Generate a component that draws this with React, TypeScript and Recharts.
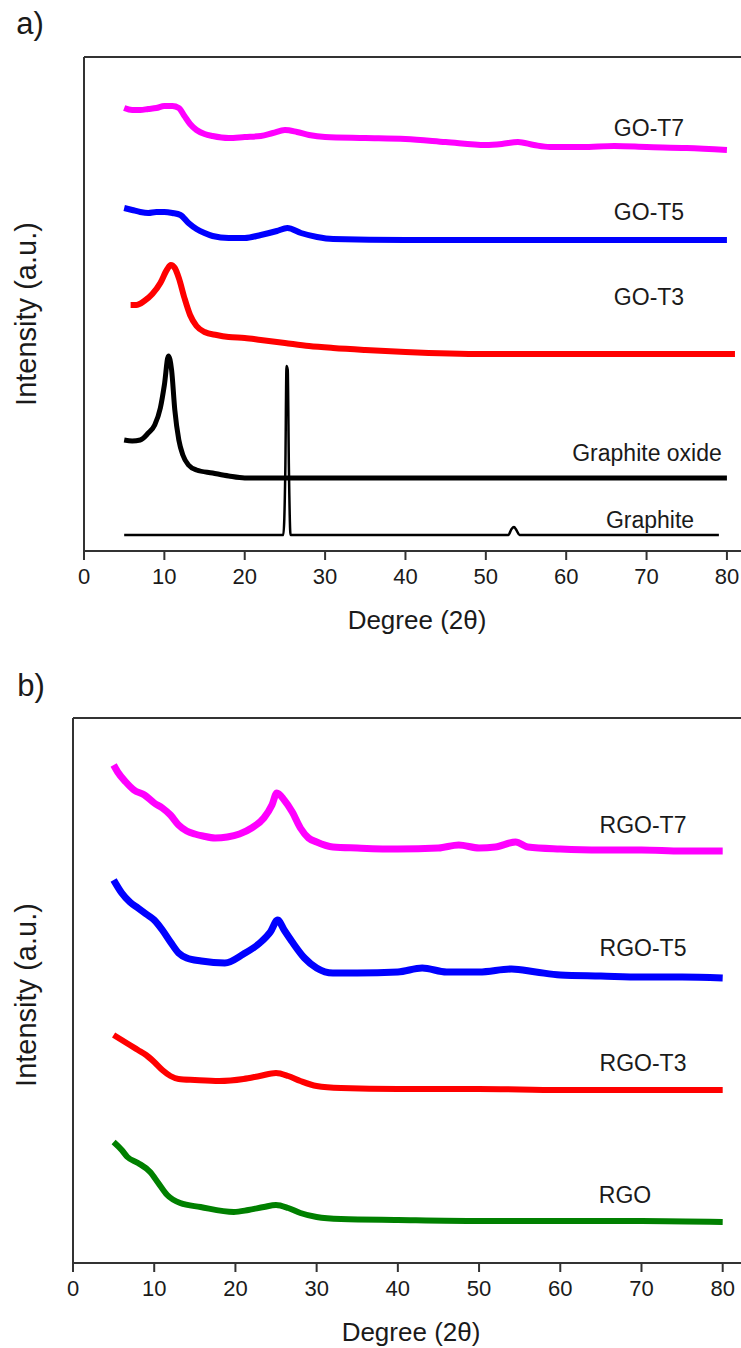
import React from 'react';
import { LineChart, Line, XAxis, YAxis, ReferenceLine } from 'recharts';

const FONT = '"Liberation Sans", Arial, sans-serif';
const xTicks = [0, 10, 20, 30, 40, 50, 60, 70, 80];

// panel a) — 2θ positions and intensities (a.u., read off the picture)
const goT7Deg = [5, 6, 7, 8, 9, 10, 11, 11.8, 12.5, 13.2, 14, 15, 16, 18, 20, 22, 23.5, 25, 26.5, 28, 30, 35, 40, 45, 50, 52, 54, 56, 58, 62, 66, 70, 75, 80];
const goT7 = [443, 441, 441, 442, 443, 445, 445, 443, 435, 427, 421, 417, 415, 413, 414, 415, 418, 421, 419, 416, 414, 413, 412, 409, 406, 407, 409, 406, 404, 404, 405, 404, 403, 401];

const goT5Deg = [5, 6, 7, 8, 9, 10, 11, 12, 13, 14, 15, 16, 18, 20, 22, 24, 25.3, 27, 29, 31, 40, 50, 60, 70, 80];
const goT5 = [343, 341, 339, 338, 339, 339, 338, 336, 328, 322, 318, 315, 313, 313, 316, 320, 323, 318, 314, 312, 311, 311, 311, 311, 311];

const goT3Deg = [5.8, 6.5, 7.5, 8.5, 9.5, 10.3, 10.8, 11.3, 11.8, 12.5, 13.2, 14, 15, 16.5, 18, 20, 22, 25, 28, 31, 35, 40, 50, 60, 70, 81];
const goT3 = [246, 246, 250, 257, 268, 281, 286, 283, 273, 253, 236, 225, 219, 216, 214, 213, 211, 208, 205, 203, 201, 199, 197, 197, 197, 197];

const gOxDeg = [5, 6, 7, 8, 8.8, 9.5, 10, 10.5, 10.9, 11.3, 11.8, 12.3, 13, 14, 16, 18, 20, 30, 40, 50, 60, 70, 80];
const gOx = [111, 110, 111, 118, 126, 143, 166, 195, 181, 141, 111, 96, 86, 81, 78, 75, 73, 73, 73, 73, 73, 73, 73];

const graphiteDeg = [5, 24.8, 25.05, 25.2, 25.35, 25.5, 25.7, 52.8, 53.2, 53.5, 53.8, 54.2, 79];
const graphite = [16, 16, 81, 185, 181, 81, 16, 16, 22, 24, 21, 16, 16];

// panel b)
const rgoT7Deg = [5, 5.5, 6.5, 7.5, 8.8, 10, 11, 12, 13, 14, 15, 16, 17.5, 19, 20.5, 22, 23.5, 24.5, 25.1, 26, 27, 28, 29, 30, 32, 35, 40, 45, 47.5, 50, 52, 54.5, 56, 60, 65, 70, 75, 80];
const rgoT7 = [498, 491, 481, 473, 468, 460, 455, 448, 438, 432, 429, 427, 425, 426, 429, 435, 445, 458, 470, 463, 451, 435, 425, 421, 416, 415, 414, 415, 418, 415, 416, 421, 416, 414, 413, 413, 412, 412];

const rgoT5Deg = [5, 6, 7, 8, 9, 10, 11, 12, 13, 14, 15.8, 18.7, 21, 23, 24.3, 25.2, 26, 27, 28.5, 30, 32, 35, 40, 43, 46, 50, 54, 57, 60, 65, 70, 75, 80];
const rgoT5 = [383, 370, 361, 355, 349, 343, 333, 321, 310, 305, 302, 300, 309, 320, 331, 343, 333, 321, 305, 295, 290, 290, 291, 295, 291, 291, 294, 291, 288, 287, 286, 286, 285];

const rgoT3Deg = [5, 6, 7, 8, 9, 10, 11, 12, 13, 15, 18, 21, 23, 25, 26.5, 28, 30, 33, 40, 50, 60, 70, 80];
const rgoT3 = [228, 223, 218, 213, 208, 201, 193, 187, 184, 183, 182, 184, 187, 190, 187, 182, 177, 175, 174, 174, 173, 173, 173];

const rgoDeg = [5, 6, 6.7, 8, 9.5, 10.5, 11.6, 13.2, 15.7, 19.8, 21.6, 23.5, 25, 26.5, 28, 30, 33, 40, 50, 60, 70, 80];
const rgo = [121, 113, 106, 100, 91, 80, 68, 60, 56, 51, 53, 56, 58, 55, 50, 46, 44, 43, 42, 42, 42, 41];

const pts = (xs: number[], ys: number[]) => xs.map((x, i) => ({ x, y: ys[i] }));

const panelA = [
  { name: 'GO-T7', color: '#ff00ff', data: pts(goT7Deg, goT7), w: 6, lx: 649, ly: 128 },
  { name: 'GO-T5', color: '#0000ff', data: pts(goT5Deg, goT5), w: 6, lx: 649, ly: 212 },
  { name: 'GO-T3', color: '#ff0000', data: pts(goT3Deg, goT3), w: 6, lx: 649, ly: 297 },
  { name: 'Graphite oxide', color: '#000000', data: pts(gOxDeg, gOx), w: 5, lx: 647, ly: 453 },
  { name: 'Graphite', color: '#000000', data: pts(graphiteDeg, graphite), w: 2.5, lx: 650, ly: 520 },
];

const panelB = [
  { name: 'RGO-T7', color: '#ff00ff', data: pts(rgoT7Deg, rgoT7), w: 7, lx: 643, ly: 825 },
  { name: 'RGO-T5', color: '#0000ff', data: pts(rgoT5Deg, rgoT5), w: 7, lx: 643, ly: 948 },
  { name: 'RGO-T3', color: '#ff0000', data: pts(rgoT3Deg, rgoT3), w: 6, lx: 643, ly: 1063 },
  { name: 'RGO', color: '#008000', data: pts(rgoDeg, rgo), w: 6, lx: 625, ly: 1195 },
];

const frame = { stroke: '#333', strokeWidth: 2 };

function Txt({ x, y, size, children, rotate }: { x: number; y: number; size: number; children: React.ReactNode; rotate?: boolean }) {
  return (
    <div
      style={{
        position: 'absolute',
        left: x,
        top: y,
        transform: `translate(-50%, -50%)${rotate ? ' rotate(-90deg)' : ''}`,
        fontFamily: FONT,
        fontSize: size,
        lineHeight: 1,
        color: '#1a1a1a',
        whiteSpace: 'nowrap',
      }}
    >
      {children}
    </div>
  );
}

function Panel({ series, top, height, left, marginTop, plotBottom, xMax, yMax }: any) {
  const axisH = 80;
  return (
    <div style={{ position: 'absolute', left: 0, top }}>
      <LineChart
        width={760}
        height={height}
        margin={{ top: marginTop, right: 17, bottom: height - plotBottom - axisH, left: 0 }}
      >
        <XAxis
          type="number"
          dataKey="x"
          domain={[0, xMax]}
          ticks={xTicks}
          allowDataOverflow
          height={axisH}
          tickSize={9}
          tickMargin={8}
          axisLine={frame}
          tickLine={frame}
          tick={{ fontSize: 22, fill: '#1a1a1a', fontFamily: FONT }}
        />
        <YAxis type="number" domain={[0, yMax]} width={left} tick={false} tickLine={false} axisLine={frame} allowDataOverflow />
        <ReferenceLine y={yMax} stroke="#333" strokeWidth={2} />
        {series.map((s: any) => (
          <Line
            key={s.name}
            data={s.data}
            dataKey="y"
            type="monotone"
            stroke={s.color}
            strokeWidth={s.w}
            strokeLinejoin="round"
            dot={false}
            activeDot={false}
            isAnimationActive={false}
          />
        ))}
      </LineChart>
    </div>
  );
}

export default function App() {
  return (
    <div style={{ position: 'absolute', left: 0, top: 0, width: 741, height: 1348, overflow: 'hidden', background: '#fff' }}>
      <Panel series={panelA} top={0} height={640} left={84} marginTop={57} plotBottom={551} xMax={82} yMax={494} />
      <Panel series={panelB} top={640} height={708} left={73} marginTop={78} plotBottom={623} xMax={82.5} yMax={545} />

      <Txt x={30} y={23} size={31}>a)</Txt>
      <Txt x={31} y={685} size={31}>b)</Txt>

      <Txt x={26} y={314} size={29} rotate>Intensity (a.u.)</Txt>
      <Txt x={26} y={995} size={29} rotate>Intensity (a.u.)</Txt>

      <Txt x={417} y={620} size={26}>Degree (2θ)</Txt>
      <Txt x={411} y={1332} size={26}>Degree (2θ)</Txt>

      {[...panelA, ...panelB].map((s) => (
        <Txt key={s.name} x={s.lx} y={s.ly} size={23}>{s.name}</Txt>
      ))}
    </div>
  );
}
